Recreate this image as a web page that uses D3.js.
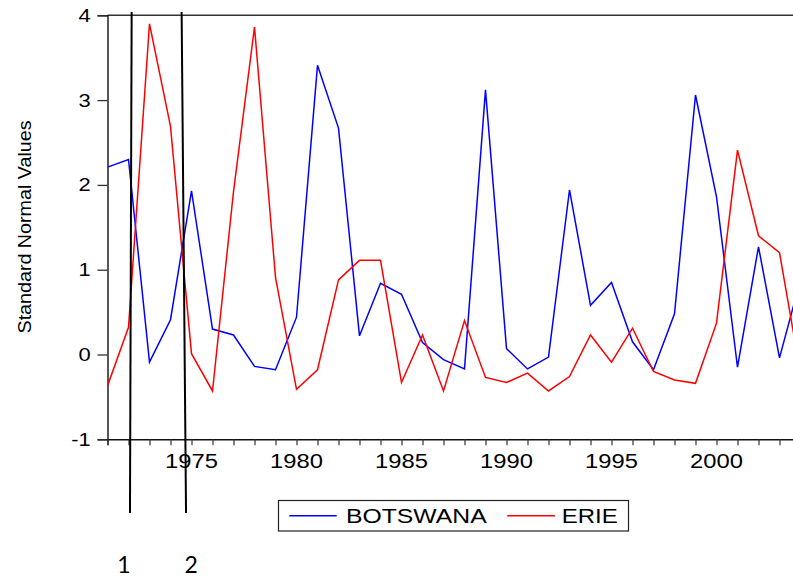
<!DOCTYPE html>
<html>
<head>
<meta charset="utf-8">
<script src="https://cdn.jsdelivr.net/npm/d3@7"></script>
<style>
  html, body { margin: 0; padding: 0; background: #fff; }
  svg { display: block; }
</style>
</head>
<body>
<svg id="chart" width="793" height="578"></svg>
<script>
// ---- data ----
const years = d3.range(1971, 2005);
const botswana = [2.21, 2.30, -0.09, 0.41, 1.93, 0.30, 0.23, -0.14, -0.18, 0.44,
                  3.41, 2.67, 0.22, 0.84, 0.71, 0.14, -0.06, -0.17, 3.12, 0.07,
                  -0.17, -0.03, 1.94, 0.58, 0.85, 0.15, -0.18, 0.48, 3.06, 1.86,
                  -0.15, 1.27, -0.04, 0.88];
const erie = [-0.37, 0.32, 3.90, 2.69, 0.01, -0.43, 1.92, 3.86, 0.91, -0.41,
              -0.18, 0.88, 1.11, 1.11, -0.33, 0.23, -0.43, 0.40, -0.27, -0.33,
              -0.22, -0.43, -0.26, 0.23, -0.09, 0.31, -0.20, -0.30, -0.34, 0.37,
              2.41, 1.40, 1.20, -0.22];
const seriesNames = ["BOTSWANA", "ERIE"];
const yTicks = [-1, 0, 1, 2, 3, 4];
const xLabelYears = [1975, 1980, 1985, 1990, 1995, 2000];
const yTitle = "Standard Normal Values";
// annotation markers (in data units: year, value)
const markers = [
  {label: "1", x1: 1972.15, y1: 4.04, x2: 1972.07, y2: -1.87, lx: 1971.78},
  {label: "2", x1: 1974.53, y1: 4.04, x2: 1974.74, y2: -1.87, lx: 1974.99}
];

// ---- layout ----
const svg = d3.select("#chart");
const x = d3.scaleLinear().domain([1971, 2004]).range([107.5, 800.5]);
const y = d3.scaleLinear().domain([-1, 4]).range([439.3, 15.3]);
const SX = 1.22; // horizontal stretch of the original text
const font = "'Liberation Sans', Arial, sans-serif";

// top frame line
svg.append("line")
  .attr("x1", x(1971)).attr("x2", 793)
  .attr("y1", y(4)).attr("y2", y(4))
  .attr("stroke", "#333").attr("stroke-width", 1.4);

// Y axis
const yAxis = svg.append("g").attr("transform", `translate(${x(1971)},0)`)
  .call(d3.axisLeft(y).tickValues(yTicks).tickSize(10).tickFormat(""));
yAxis.select(".domain").attr("stroke", "#111").attr("stroke-width", 1.4);
yAxis.selectAll(".tick line").attr("stroke", "#333").attr("stroke-width", 1.3);

svg.append("g").selectAll("text").data(yTicks).join("text")
  .attr("transform", d => `translate(90.7,${y(d) + 6.5}) scale(${SX},1)`)
  .attr("text-anchor", "end")
  .attr("font-family", font).attr("font-size", 18).attr("fill", "#000")
  .text(d => d);

// X axis
const xAxis = svg.append("g").attr("transform", `translate(0,${y(-1)})`)
  .call(d3.axisBottom(x).tickValues(years).tickSize(6).tickFormat(""));
xAxis.select(".domain").attr("stroke", "#111").attr("stroke-width", 1.4);
xAxis.selectAll(".tick line").attr("stroke", "#333").attr("stroke-width", 1.2);

svg.append("g").selectAll("text").data(xLabelYears).join("text")
  .attr("transform", d => `translate(${x(d)},468.3) scale(${SX},1)`)
  .attr("text-anchor", "middle")
  .attr("font-family", font).attr("font-size", 19.5).attr("fill", "#000")
  .text(d => d);

// Y title
svg.append("text")
  .attr("transform", "translate(30.5,227) rotate(-90)")
  .attr("text-anchor", "middle")
  .attr("font-family", font).attr("font-size", 18.5)
  .attr("textLength", 213).attr("lengthAdjust", "spacingAndGlyphs")
  .attr("fill", "#000")
  .text(yTitle);

// Lines
const clip = svg.append("clipPath").attr("id", "plotclip")
  .append("rect").attr("x", x(1971)).attr("y", 0).attr("width", 800).attr("height", y(-1));
const line = d3.line().x((d, i) => x(years[i])).y(d => y(d));
const plot = svg.append("g").attr("clip-path", "url(#plotclip)");
plot.append("path").datum(botswana).attr("d", line)
  .attr("fill", "none").attr("stroke", "#0000ff").attr("stroke-width", 1.5);
plot.append("path").datum(erie).attr("d", line)
  .attr("fill", "none").attr("stroke", "#ff0000").attr("stroke-width", 1.5);

// annotation markers
svg.append("g").selectAll("line").data(markers).join("line")
  .attr("x1", d => x(d.x1)).attr("y1", d => y(d.y1))
  .attr("x2", d => x(d.x2)).attr("y2", d => y(d.y2))
  .attr("stroke", "#000").attr("stroke-width", 2);
svg.append("g").selectAll("text").data(markers).join("text")
  .attr("x", d => x(d.lx)).attr("y", 572.5)
  .attr("text-anchor", "middle")
  .attr("font-family", "Lato, 'Open Sans', sans-serif").attr("font-size", 23)
  .attr("fill", "#000")
  .text(d => d.label);

// Legend
const lg = svg.append("g");
lg.append("rect").attr("x", 278.5).attr("y", 500.5).attr("width", 350).attr("height", 30.5)
  .attr("fill", "#fff").attr("stroke", "#222").attr("stroke-width", 1.2);
const legendItems = [
  {name: seriesNames[0], color: "#0000ff", lx1: 289.3, lx2: 336.7, tx: 346, tl: 140.7},
  {name: seriesNames[1], color: "#ff0000", lx1: 507.3, lx2: 555, tx: 561.7, tl: 56}
];
legendItems.forEach(it => {
  lg.append("line").attr("x1", it.lx1).attr("x2", it.lx2)
    .attr("y1", 515.7).attr("y2", 515.7)
    .attr("stroke", it.color).attr("stroke-width", 1.5);
  lg.append("text").attr("x", it.tx).attr("y", 522.5)
    .attr("font-family", font).attr("font-size", 19.5)
    .attr("textLength", it.tl).attr("lengthAdjust", "spacingAndGlyphs")
    .attr("fill", "#000")
    .text(it.name);
});
</script>
</body>
</html>
